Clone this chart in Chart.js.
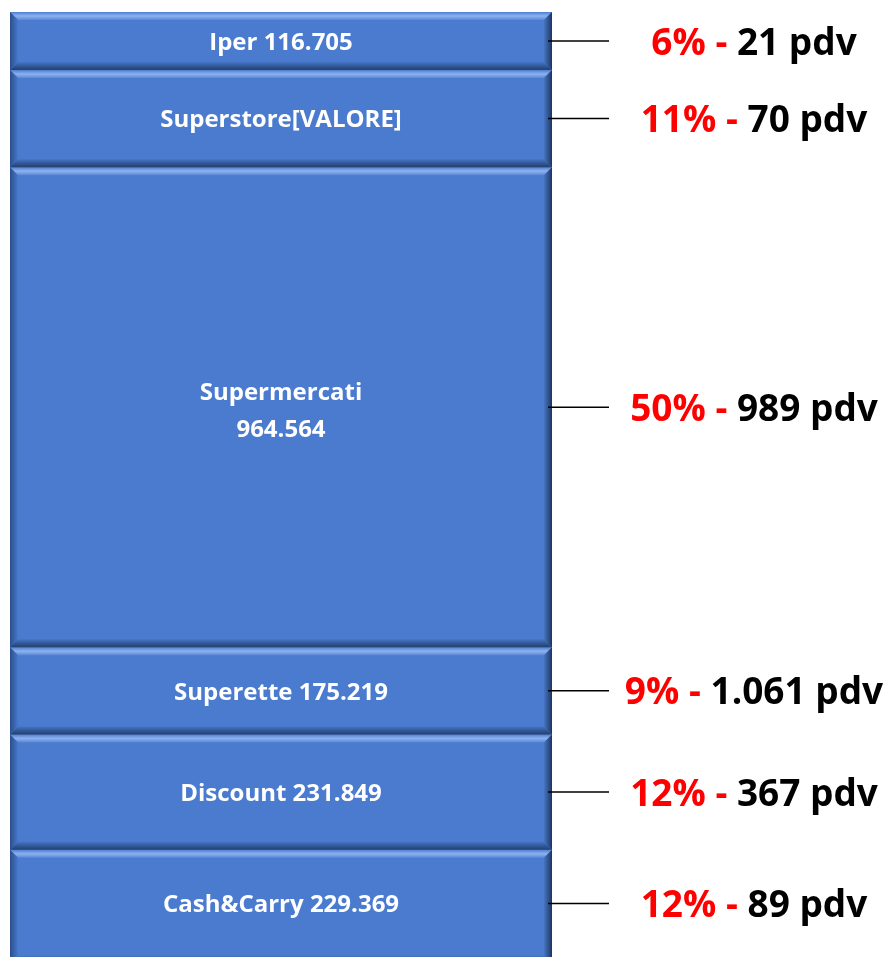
<!DOCTYPE html>
<html>
<head>
<meta charset="utf-8">
<script src="https://cdn.jsdelivr.net/npm/chart.js@4"></script>
<style>
  html, body { margin: 0; padding: 0; background: #fff; }
  #wrap { width: 889px; height: 957px; }
</style>
</head>
<body>
<div id="wrap"><canvas id="canale" width="889" height="957"></canvas></div>
<script>
// segmenti dal basso verso l'alto
const canali = ['Cash&Carry', 'Discount', 'Superette', 'Supermercati', 'Superstore', 'Iper'];
const valori = [229369, 231849, 175219, 964564, 195000, 116705];   // Superstore stimato (etichetta = [VALORE])
const mostraValore = [true, true, true, true, false, true];
const quote = ['12%', '12%', '9%', '50%', '11%', '6%'];
const pdv = ['89', '367', '1.061', '989', '70', '21'];

const fmt = v => v.toLocaleString('it-IT');

// rilievo 3D sui segmenti
const bevelPlugin = {
    id: 'bevel',
    afterDatasetsDraw(chart) {
        const ctx = chart.ctx;
        const b = 8;
        chart.data.datasets.forEach((ds, i) => {
            const el = chart.getDatasetMeta(i).data[0];
            const l = el.x - el.width / 2, r = el.x + el.width / 2;
            const t = Math.min(el.y, el.base), bo = Math.max(el.y, el.base);
            ctx.save();
            let g = ctx.createLinearGradient(0, t, 0, t + b);
            g.addColorStop(0, '#4f7fd2'); g.addColorStop(0.5, '#8db2ef'); g.addColorStop(1, '#5a88d6');
            ctx.fillStyle = g;
            ctx.beginPath(); ctx.moveTo(l, t); ctx.lineTo(r, t); ctx.lineTo(r - b, t + b); ctx.lineTo(l + b, t + b); ctx.closePath(); ctx.fill();
            g = ctx.createLinearGradient(0, bo - b, 0, bo);
            g.addColorStop(0, '#4574c6'); g.addColorStop(0.6, '#2f548f'); g.addColorStop(1, '#24406e');
            ctx.fillStyle = g;
            ctx.beginPath(); ctx.moveTo(l, bo); ctx.lineTo(r, bo); ctx.lineTo(r - b, bo - b); ctx.lineTo(l + b, bo - b); ctx.closePath(); ctx.fill();
            g = ctx.createLinearGradient(l, 0, l + b, 0);
            g.addColorStop(0, '#2c4e8c'); g.addColorStop(1, '#4878ca');
            ctx.fillStyle = g;
            ctx.beginPath(); ctx.moveTo(l, t); ctx.lineTo(l + b, t + b); ctx.lineTo(l + b, bo - b); ctx.lineTo(l, bo); ctx.closePath(); ctx.fill();
            g = ctx.createLinearGradient(r - b, 0, r, 0);
            g.addColorStop(0, '#4674c4'); g.addColorStop(0.6, '#2f5088'); g.addColorStop(1, '#1c3260');
            ctx.fillStyle = g;
            ctx.beginPath(); ctx.moveTo(r, t); ctx.lineTo(r - b, t + b); ctx.lineTo(r - b, bo - b); ctx.lineTo(r, bo); ctx.closePath(); ctx.fill();
            ctx.restore();
        });
    }
};

// etichette interne e richiami a destra
const labelPlugin = {
    id: 'etichette',
    afterDraw(chart) {
        const ctx = chart.ctx;
        chart.data.datasets.forEach((ds, i) => {
            const el = chart.getDatasetMeta(i).data[0];
            const t = Math.max(Math.min(el.y, el.base), chart.chartArea.top);
            const bo = Math.min(Math.max(el.y, el.base), chart.chartArea.bottom);
            const cy = (t + bo) / 2;
            const r = el.x + el.width / 2;
            ctx.save();
            // testo dentro la barra
            ctx.fillStyle = '#ffffff';
            ctx.font = 'bold 24px "Open Sans", Lato, sans-serif';
            ctx.textAlign = 'center';
            ctx.textBaseline = 'middle';
            const val = mostraValore[i] ? fmt(valori[i]) : '[VALORE]';
            if (bo - t > 200) {
                ctx.fillText(canali[i], el.x, cy - 14);
                ctx.fillText(val, el.x, cy + 23);
            } else {
                ctx.fillText(canali[i] + (mostraValore[i] ? ' ' : '') + val, el.x, cy + 2);
            }
            // linea di richiamo
            ctx.strokeStyle = '#000';
            ctx.lineWidth = 1.5;
            ctx.beginPath(); ctx.moveTo(r - 4, cy); ctx.lineTo(609, cy); ctx.stroke();
            // percentuale + pdv
            ctx.font = 'bold 37px "Open Sans", Lato, sans-serif';
            const rosso = quote[i] + ' - ';
            const nero = pdv[i] + ' pdv';
            const w1 = ctx.measureText(rosso).width, w2 = ctx.measureText(nero).width;
            let x0 = 754 - (w1 + w2) / 2;
            ctx.textAlign = 'left';
            ctx.fillStyle = '#ff0000';
            ctx.fillText(rosso, x0, cy + 3);
            ctx.fillStyle = '#000000';
            ctx.fillText(nero, x0 + w1, cy + 3);
            ctx.restore();
        });
    }
};

const ctx = document.getElementById('canale').getContext('2d');
new Chart(ctx, {
    type: 'bar',
    data: {
        labels: [''],
        datasets: canali.map((c, i) => ({
            label: c,
            data: [valori[i]],
            backgroundColor: '#4a7bcf',
            borderWidth: 0,
            barPercentage: 1,
            categoryPercentage: 1
        }))
    },
    options: {
        responsive: false,
        animation: false,
        layout: { padding: { left: 10, right: 337, top: 12, bottom: 0 } },
        plugins: { legend: { display: false }, tooltip: { enabled: false } },
        scales: {
            x: { stacked: true, display: false },
            y: { stacked: true, display: false, min: 14000, max: valori.reduce((a, b) => a + b, 0) }
        }
    },
    plugins: [bevelPlugin, labelPlugin]
});
</script>
</body>
</html>
